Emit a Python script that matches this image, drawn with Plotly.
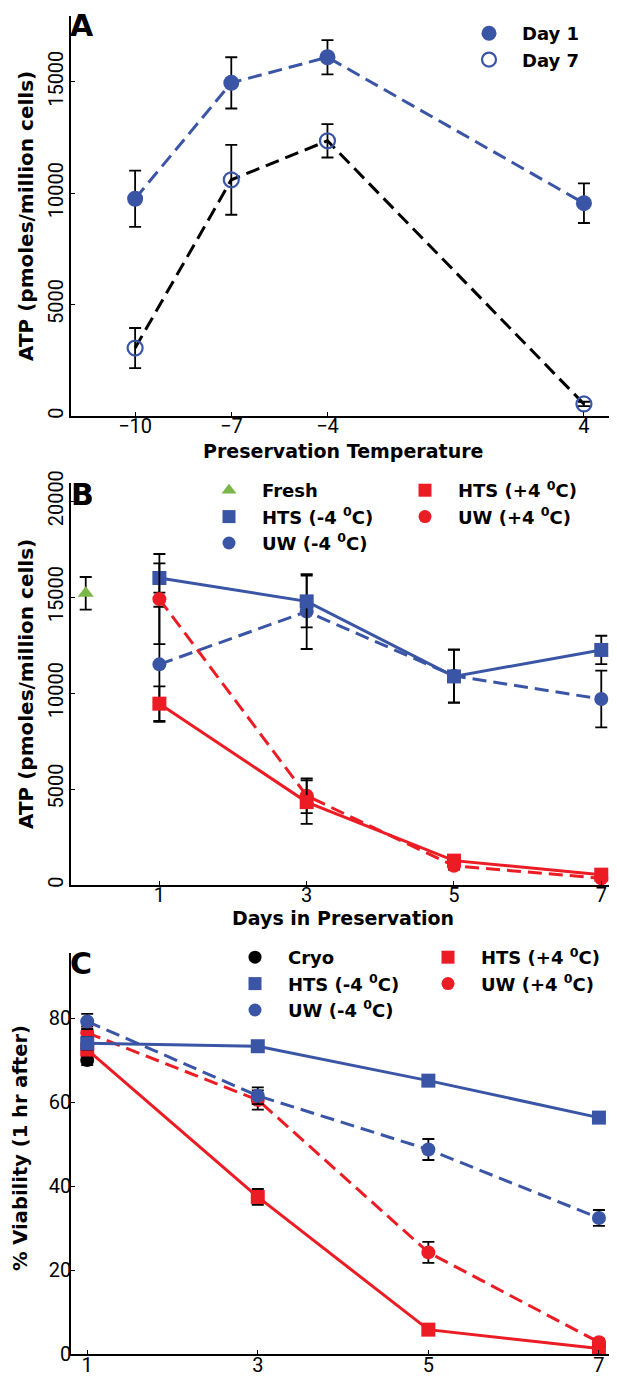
import plotly.graph_objects as go

W, H = 617, 1379

# ---------------- Panel A data ----------------
temp = [-10, -7, -4, 4]
atp_day1 = [9750, 14950, 16100, 9550]
atp_day1_err = [1260, 1150, 770, 890]
atp_day7 = [3050, 10600, 12350, 540]
atp_day7_err = [900, 1570, 750, 100]

# ---------------- Panel B data ----------------
days = [1, 3, 5, 7]
fresh_day = [0]
fresh_atp = [15200]
fresh_atp_err = [850]
b_hts_m4 = [16000, 14780, 10870, 12250]
b_hts_m4_err = [760, 1350, 1380, 740]
b_uw_m4 = [11500, 14250, 10900, 9690]
b_uw_m4_err = [3000, 1950, 1380, 1480]
b_hts_p4 = [9450, 4320, 1270, 540]
b_hts_p4_err = [900, 1130, 200, 120]
b_uw_p4 = [14900, 4650, 1000, 350]
b_uw_p4_err = [2350, 900, 200, 100]

# ---------------- Panel C data ----------------
cryo_day = [1]
cryo_via = [70]
cryo_err = [1.2]
c_hts_m4 = [74.0, 73.3, 65.1, 56.3]
c_hts_m4_err = [1.5, 0.8, 0.8, 0.8]
c_uw_m4 = [79.2, 61.5, 48.7, 32.4]
c_uw_m4_err = [1.8, 2.0, 2.5, 1.9]
c_hts_p4 = [72.5, 37.4, 5.8, 1.3]
c_hts_p4_err = [1.5, 1.9, 0.6, 0.5]
c_uw_p4 = [76.5, 60.5, 24.2, 2.8]
c_uw_p4_err = [1.5, 2.3, 2.5, 0.8]

# tick labels
a_xticks = [-10, -7, -4, 4]
a_yticks = [0, 5000, 10000, 15000]
b_xticks = [1, 3, 5, 7]
b_yticks = [0, 5000, 10000, 15000, 20000]
c_xticks = [1, 3, 5, 7]
c_yticks = [0, 20, 40, 60, 80]

BLUE = "#3a55a6"
RED = "#ec1c24"
GREEN = "#7ab648"
BLACK = "#000000"
DASH = "14px,7px"
TITLE_FONT = "DejaVu Sans"
TICK_FONT = "Roboto"


def px(x):
    return x / W


def py(y):
    return 1 - y / H


def err(vals):
    return dict(type="data", array=vals, visible=True, color=BLACK, thickness=1.8, width=6)


fig = go.Figure()


def add(x, y, e, xa, ya, color, symbol, size, dash=None, linecolor=None, mode="lines+markers", mline=None):
    marker = dict(color=color, symbol=symbol, size=size)
    if mline:
        marker["line"] = mline
    fig.add_trace(go.Scatter(
        x=x, y=y, error_y=err(e), xaxis=xa, yaxis=ya, mode=mode,
        line=dict(color=linecolor or color, width=3, dash=dash) if "lines" in mode else None,
        marker=marker, showlegend=False, hoverinfo="skip"))


def leg(name, legend, color, symbol, size, mline=None):
    marker = dict(color=color, symbol=symbol, size=size)
    if mline:
        marker["line"] = mline
    fig.add_trace(go.Scatter(x=[None], y=[None], mode="markers", name=name, legend=legend,
                             marker=marker, showlegend=True, xaxis="x", yaxis="y"))


# Panel A
add(temp, atp_day7, atp_day7_err, "x", "y", BLUE, "circle-open", 15, dash=DASH,
    linecolor=BLACK, mline=dict(color=BLUE, width=2.2))
add(temp, atp_day1, atp_day1_err, "x", "y", BLUE, "circle", 16, dash=DASH)

# Panel B
add(fresh_day, fresh_atp, fresh_atp_err, "x2", "y2", GREEN, "triangle-up", 14, mode="markers")
add(days, b_uw_m4, b_uw_m4_err, "x2", "y2", BLUE, "circle", 14, dash=DASH)
add(days, b_hts_m4, b_hts_m4_err, "x2", "y2", BLUE, "square", 14)
add(days, b_uw_p4, b_uw_p4_err, "x2", "y2", RED, "circle", 14, dash=DASH)
add(days, b_hts_p4, b_hts_p4_err, "x2", "y2", RED, "square", 14)

# Panel C
add(cryo_day, cryo_via, cryo_err, "x3", "y3", BLACK, "circle", 14, mode="markers")
add(days, c_hts_p4, c_hts_p4_err, "x3", "y3", RED, "square", 14)
add(days, c_uw_p4, c_uw_p4_err, "x3", "y3", RED, "circle", 14, dash=DASH)
add(days, c_hts_m4, c_hts_m4_err, "x3", "y3", BLUE, "square", 14)
add(days, c_uw_m4, c_uw_m4_err, "x3", "y3", BLUE, "circle", 14, dash=DASH)

# Legend entries
leg("<b>Day 1</b>", "legend", BLUE, "circle", 15)
leg("<b>Day 7</b>", "legend", BLUE, "circle-open", 14, mline=dict(color=BLUE, width=2.2))
leg("<b>Fresh</b>", "legend2", GREEN, "triangle-up", 13)
leg("<b>HTS (-4 <sup>0</sup>C)</b>", "legend2", BLUE, "square", 13)
leg("<b>UW (-4 <sup>0</sup>C)</b>", "legend2", BLUE, "circle", 13)
leg("<b>HTS (+4 <sup>0</sup>C)</b>", "legend3", RED, "square", 13)
leg("<b>UW (+4 <sup>0</sup>C)</b>", "legend3", RED, "circle", 13)
leg("<b>Cryo</b>", "legend4", BLACK, "circle", 13)
leg("<b>HTS (-4 <sup>0</sup>C)</b>", "legend4", BLUE, "square", 13)
leg("<b>UW (-4 <sup>0</sup>C)</b>", "legend4", BLUE, "circle", 13)
leg("<b>HTS (+4 <sup>0</sup>C)</b>", "legend5", RED, "square", 13)
leg("<b>UW (+4 <sup>0</sup>C)</b>", "legend5", RED, "circle", 13)

tickfont = dict(family=TICK_FONT, size=20, color=BLACK)
axis_common = dict(showline=True, linecolor=BLACK, linewidth=1.5, ticks="inside", ticklen=4,
                   tickcolor=BLACK, showgrid=False, zeroline=False, automargin=False,
                   tickfont=tickfont, mirror=False)

xdom = [px(63), px(608)]
fig.update_layout(
    width=W, height=H, margin=dict(l=0, r=0, t=0, b=0),
    paper_bgcolor="white", plot_bgcolor="white", template="none",
    xaxis=dict(domain=xdom, anchor="y", range=[-12, 5], tickvals=a_xticks,
               ticklabelstandoff=-9, **axis_common),
    yaxis=dict(domain=[py(408), py(8)], anchor="x", range=[0, 17950], tickvals=a_yticks,
               tickformat="d", tickangle=-90, ticklabelstandoff=-2, **axis_common),
    xaxis2=dict(domain=xdom, anchor="y2", range=[-0.2, 7.2], tickvals=b_xticks,
                ticklabelstandoff=-9, **axis_common),
    yaxis2=dict(domain=[py(877), py(475)], anchor="x2", range=[0, 20950], tickvals=b_yticks,
                tickformat="d", tickangle=-90, ticklabelstandoff=-2, **axis_common),
    xaxis3=dict(domain=xdom, anchor="y3", range=[0.81, 7.2], tickvals=c_xticks,
                ticklabelstandoff=-8, **axis_common),
    yaxis3=dict(domain=[py(1346), py(945)], anchor="x3", range=[0, 95.5], tickvals=c_yticks,
                ticklabelstandoff=-6, **axis_common),
)

legfont = dict(family=TITLE_FONT, size=18, color=BLACK)
legbase = dict(bgcolor="rgba(0,0,0,0)", font=legfont, xanchor="left", yanchor="top",
               orientation="v", tracegroupgap=0, borderwidth=0, itemwidth=56)
fig.update_layout(
    legend=dict(x=px(448), y=py(7), **legbase),
    legend2=dict(x=px(188), y=py(464), **legbase),
    legend3=dict(x=px(384), y=py(464), **legbase),
    legend4=dict(x=px(214), y=py(931), **legbase),
    legend5=dict(x=px(407), y=py(931), **legbase),
)

ann = []


def note(text, x, y, size=18, angle=0):
    ann.append(dict(text=text, x=px(x), y=py(y), xref="paper", yref="paper", showarrow=False,
                    xanchor="center", yanchor="middle", textangle=angle,
                    font=dict(family=TITLE_FONT, size=size, color=BLACK)))


note("<b>A</b>", 74, 17, size=30)
note("<b>B</b>", 74, 486, size=30)
note("<b>C</b>", 73, 955, size=30)
note("<b>ATP (pmoles/million cells)</b>", 18, 208, size=20, angle=-90)
note("<b>Preservation Temperature</b>", 335, 443, size=19)
note("<b>ATP (pmoles/million cells)</b>", 18, 676, size=20, angle=-90)
note("<b>Days in Preservation</b>", 335, 910, size=19)
note("<b>% Viability (1 hr after)</b>", 12, 1140, size=19.5, angle=-90)
fig.update_layout(annotations=ann)

fig.write_html("out.html")
